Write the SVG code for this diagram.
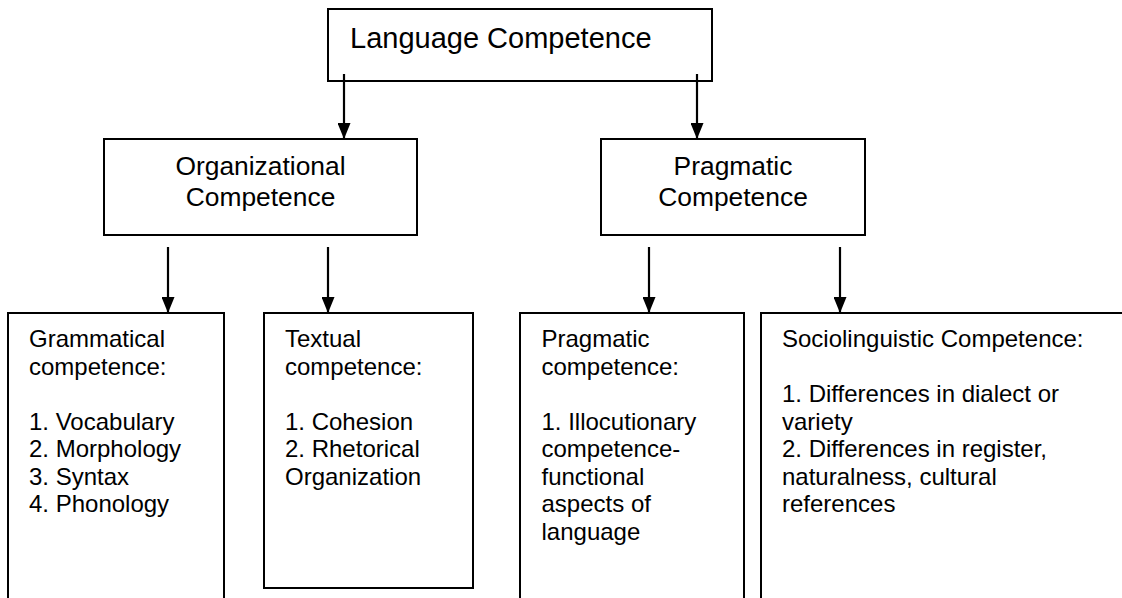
<svg xmlns="http://www.w3.org/2000/svg" width="1122" height="598" viewBox="0 0 1122 598">
  <style>
    .box { fill: #ffffff; stroke: #000000; stroke-width: 2; }
    .t { font-family: "Liberation Sans", Arial, sans-serif; fill: #000000; }
    .top { font-size: 29px; }
    .mid { font-size: 26.4px; text-anchor: middle; }
    .low { font-size: 24px; }
    .conn { stroke: #000000; stroke-width: 2.2; fill: none; marker-end: url(#arrow); }
  </style>
  <defs>
    <marker id="arrow" markerUnits="userSpaceOnUse" markerWidth="16" markerHeight="13" refX="16" refY="6.5" orient="auto" viewBox="0 0 16 13">
      <path d="M0,0 L16,6.5 L0,13 Z" fill="#000000"/>
    </marker>
  </defs>
  <rect width="1122" height="598" fill="#ffffff"/>

  <g id="language-competence">
    <rect class="box" x="328" y="9" width="384" height="72"/>
    <text class="t top" x="350" y="47.5">Language Competence</text>
  </g>

  <g id="organizational-competence">
    <rect class="box" x="104" y="139" width="313" height="96"/>
    <text class="t mid" x="260.5" y="175">Organizational</text>
    <text class="t mid" x="260.5" y="206">Competence</text>
  </g>

  <g id="pragmatic-competence">
    <rect class="box" x="601" y="139" width="264" height="96"/>
    <text class="t mid" x="733" y="175">Pragmatic</text>
    <text class="t mid" x="733" y="206">Competence</text>
  </g>

  <g id="grammatical">
    <rect class="box" x="8" y="313" width="216" height="300"/>
    <text class="t low" x="29" y="347">Grammatical</text>
    <text class="t low" x="29" y="374.5">competence:</text>
    <text class="t low" x="29" y="429.5">1. Vocabulary</text>
    <text class="t low" x="29" y="457">2. Morphology</text>
    <text class="t low" x="29" y="484.5">3. Syntax</text>
    <text class="t low" x="29" y="512">4. Phonology</text>
  </g>

  <g id="textual">
    <rect class="box" x="264" y="313" width="209" height="275"/>
    <text class="t low" x="285" y="347">Textual</text>
    <text class="t low" x="285" y="374.5">competence:</text>
    <text class="t low" x="285" y="429.5">1. Cohesion</text>
    <text class="t low" x="285" y="457">2. Rhetorical</text>
    <text class="t low" x="285" y="484.5">Organization</text>
  </g>

  <g id="pragmatic">
    <rect class="box" x="520" y="313" width="224" height="300"/>
    <text class="t low" x="541.5" y="347">Pragmatic</text>
    <text class="t low" x="541.5" y="374.5">competence:</text>
    <text class="t low" x="541.5" y="429.5">1. Illocutionary</text>
    <text class="t low" x="541.5" y="457">competence-</text>
    <text class="t low" x="541.5" y="484.5">functional</text>
    <text class="t low" x="541.5" y="512">aspects of</text>
    <text class="t low" x="541.5" y="539.5">language</text>
  </g>

  <g id="sociolinguistic">
    <rect class="box" x="761" y="313" width="380" height="300"/>
    <text class="t low" x="782" y="347">Sociolinguistic Competence:</text>
    <text class="t low" x="782" y="402">1. Differences in dialect or</text>
    <text class="t low" x="782" y="429.5">variety</text>
    <text class="t low" x="782" y="457">2. Differences in register,</text>
    <text class="t low" x="782" y="484.5">naturalness, cultural</text>
    <text class="t low" x="782" y="512">references</text>
  </g>

  <g id="connectors">
    <line class="conn" x1="344" y1="74" x2="344" y2="139"/>
    <line class="conn" x1="697" y1="74" x2="697" y2="139"/>
    <line class="conn" x1="168" y1="247" x2="168" y2="313"/>
    <line class="conn" x1="328" y1="247" x2="328" y2="313"/>
    <line class="conn" x1="649" y1="247" x2="649" y2="313"/>
    <line class="conn" x1="840" y1="247" x2="840" y2="313"/>
  </g>
</svg>
